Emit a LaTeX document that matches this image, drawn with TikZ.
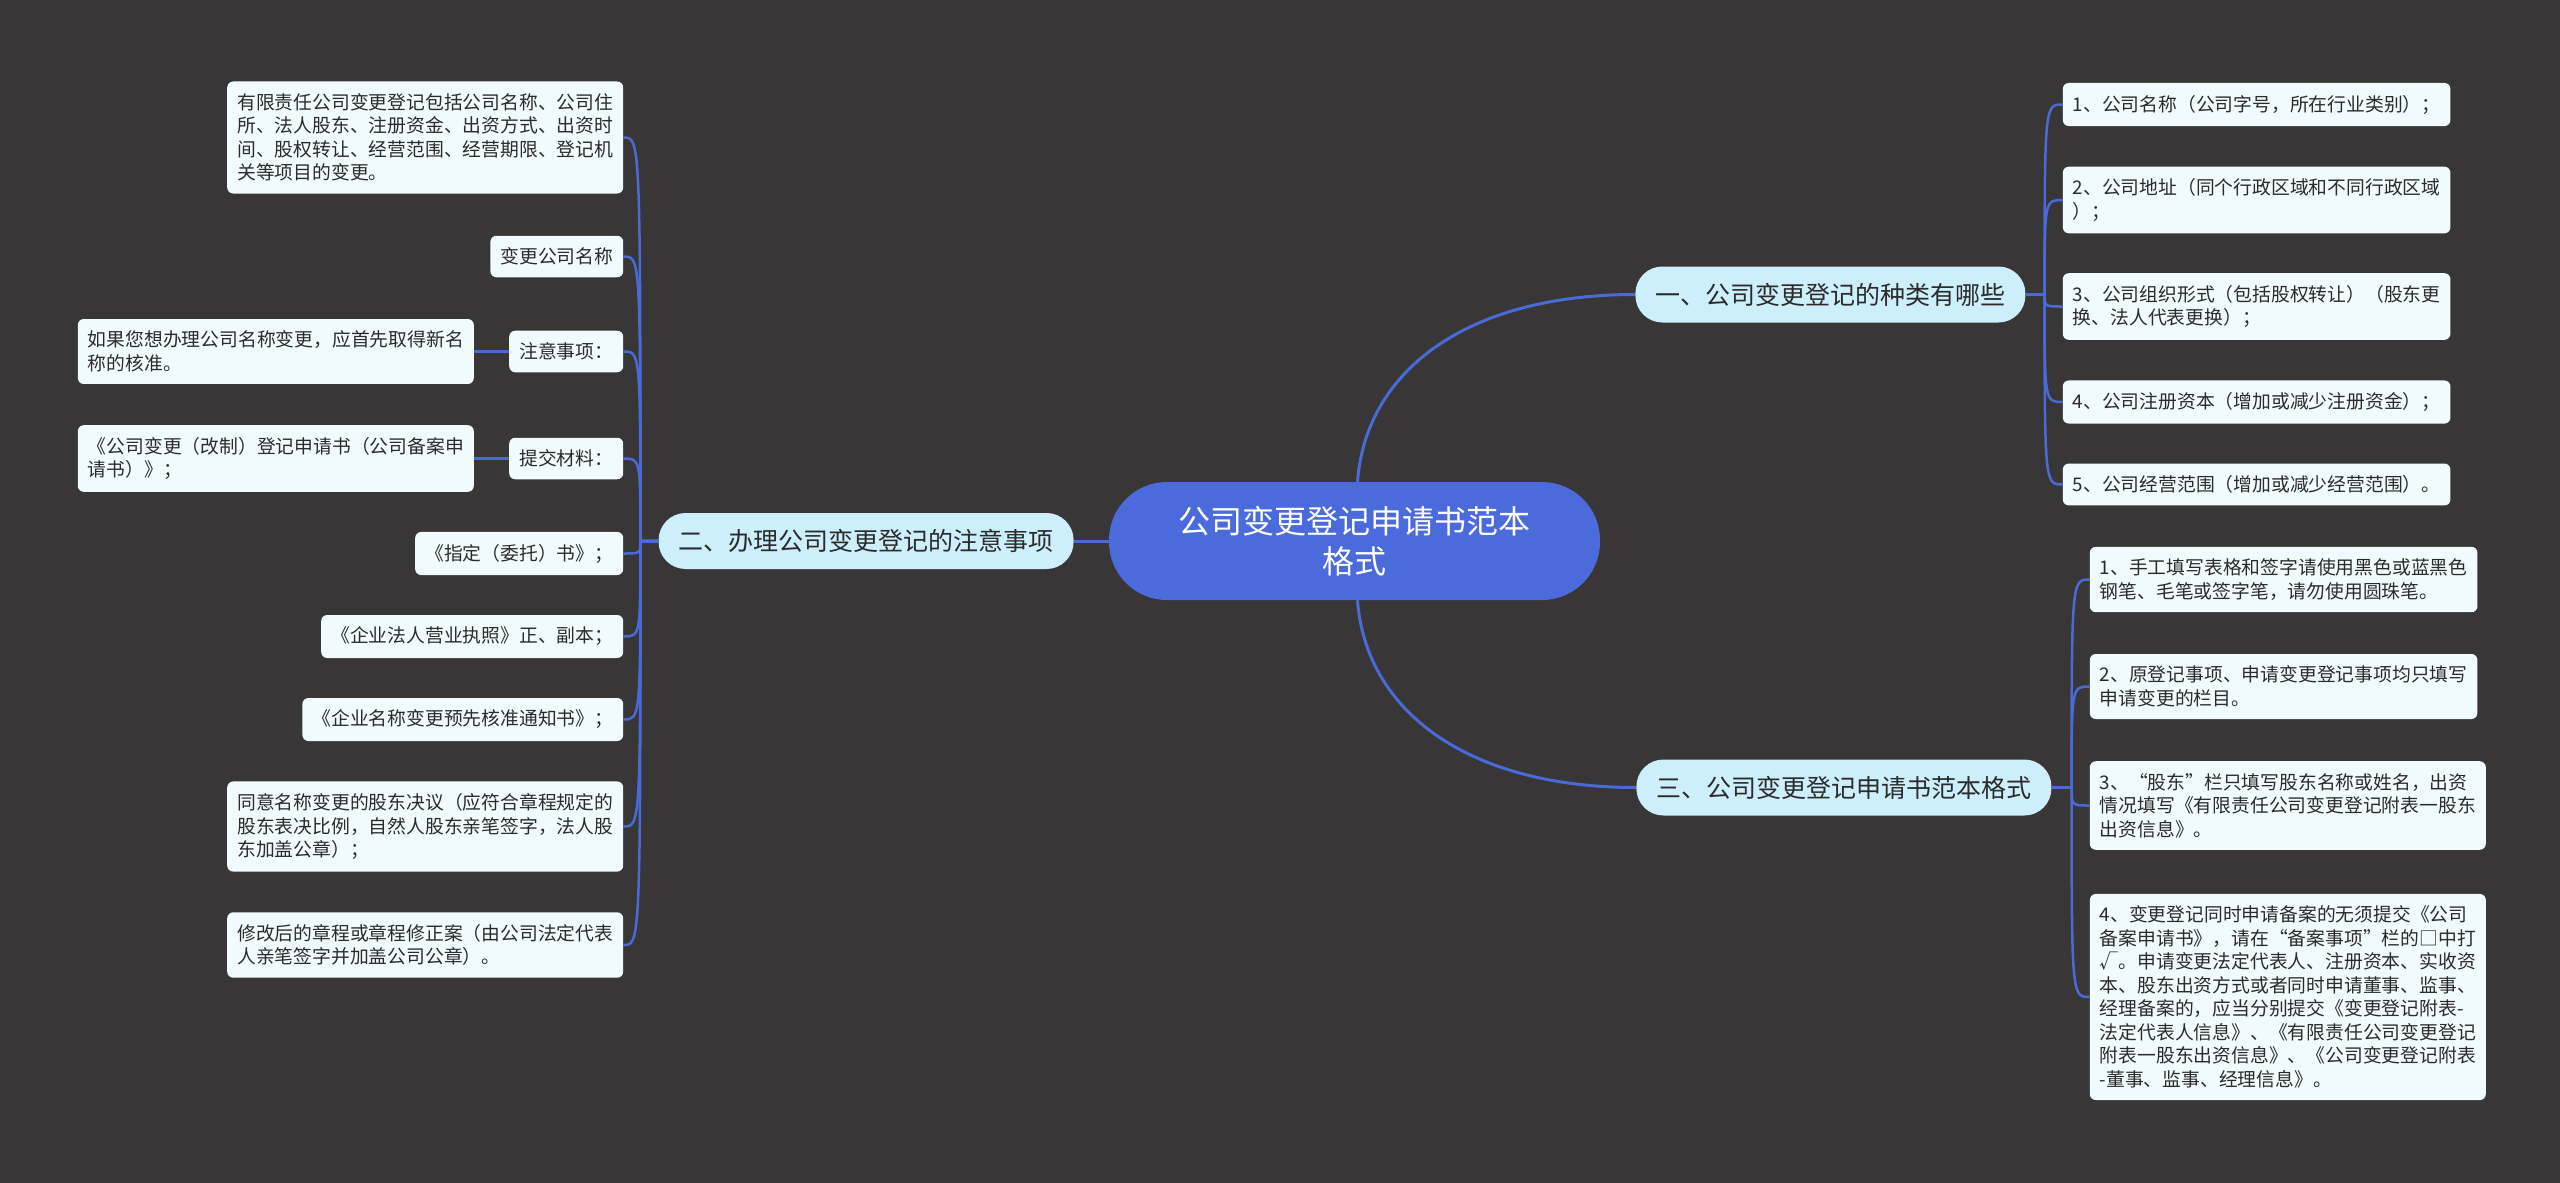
\documentclass[tikz,border=0pt]{standalone}
\usepackage{fontspec}
\setmainfont{Noto Sans CJK SC}
\usetikzlibrary{positioning}
\definecolor{bgdark}{HTML}{383637}
\definecolor{hubblue}{HTML}{4B6BDC}
\definecolor{topicfill}{HTML}{CDEEFB}
\definecolor{leaffill}{HTML}{F1FBFE}
\definecolor{linkblue}{HTML}{4A6AD8}
\definecolor{inkdark}{HTML}{2B2B2B}
\tikzstyle{central} = [rectangle, rounded corners=58pt, fill=hubblue, text=white, minimum width=491pt, minimum height=118pt, align=center, font=\fontsize{32pt}{40pt}\selectfont]
\tikzstyle{topic} = [rectangle, rounded corners=27pt, fill=topicfill, text=inkdark, minimum height=56pt, inner xsep=20pt, font=\fontsize{25pt}{30pt}\selectfont]
\tikzstyle{leaf} = [rectangle, rounded corners=6pt, fill=leaffill, text=inkdark, inner xsep=10pt, inner ysep=12pt, align=left, font=\fontsize{18.8pt}{23.5pt}\selectfont]
\tikzstyle{mainlink} = [draw=linkblue, line width=3pt]
\tikzstyle{sublink} = [draw=linkblue, line width=2.5pt]

\begin{document}
\begin{tikzpicture}[x=1pt, y=1pt]
    \fill [bgdark] (0,0) rectangle (2560,-1183);
    \useasboundingbox (0,0) rectangle (2560,-1183);

    \node (hub) [central] at (1354.5,-541) {公司变更登记申请书范本\\格式};
    \node (notes) [topic, left=35pt of hub] {二、办理公司变更登记的注意事项};
    \node (kinds) [topic, right=35pt of hub, yshift=246.5pt] {一、公司变更登记的种类有哪些};
    \node (format) [topic, right=36pt of hub, yshift=-246.5pt] {三、公司变更登记申请书范本格式};

    % spines
    \coordinate [left=18pt of notes] (sN);
    \coordinate [right=19pt of kinds] (sK);
    \coordinate [right=20pt of format] (sF);

    % left side
    \node (items) [leaf, left=17pt of sN, yshift=403.5pt] {有限责任公司变更登记包括公司名称、公司住\\所、法人股东、注册资金、出资方式、出资时\\间、股权转让、经营范围、经营期限、登记机\\关等项目的变更。};
    \node (rename) [leaf, left=17pt of sN, yshift=284.5pt] {变更公司名称};
    \node (attn) [leaf, left=17pt of sN, yshift=189.5pt] {注意事项：};
    \node (attnnote) [leaf, left=35pt of attn] {如果您想办理公司名称变更，应首先取得新名\\称的核准。};
    \node (submit) [leaf, left=17pt of sN, yshift=82.5pt] {提交材料：};
    \node (submitdoc) [leaf, left=35pt of submit] {《公司变更（改制）登记申请书（公司备案申\\请书）》；};
    \node (entrust) [leaf, left=17pt of sN, yshift=-12.5pt] {《指定（委托）书》；};
    \node (license) [leaf, left=17pt of sN, yshift=-95.5pt] {《企业法人营业执照》正、副本；};
    \node (prenote) [leaf, left=17pt of sN, yshift=-178.5pt] {《企业名称变更预先核准通知书》；};
    \node (resolve) [leaf, left=17pt of sN, yshift=-285.5pt] {同意名称变更的股东决议（应符合章程规定的\\股东表决比例，自然人股东亲笔签字，法人股\\东加盖公章）；};
    \node (charter) [leaf, left=17pt of sN, yshift=-404pt] {修改后的章程或章程修正案（由公司法定代表\\人亲笔签字并加盖公司公章）。};

    % right side, kinds
    \node (k1) [leaf, right=18pt of sK, yshift=190pt] {1、公司名称（公司字号，所在行业类别）；};
    \node (k2) [leaf, right=18pt of sK, yshift=94.5pt] {2、公司地址（同个行政区域和不同行政区域\\）；};
    \node (k3) [leaf, right=18pt of sK, yshift=-12pt] {3、公司组织形式（包括股权转让）（股东更\\换、法人代表更换）；};
    \node (k4) [leaf, right=18pt of sK, yshift=-107.5pt] {4、公司注册资本（增加或减少注册资金）；};
    \node (k5) [leaf, right=18pt of sK, yshift=-190pt] {5、公司经营范围（增加或减少经营范围）。};

    % right side, format
    \node (f1) [leaf, right=18pt of sF, yshift=208pt] {1、手工填写表格和签字请使用黑色或蓝黑色\\钢笔、毛笔或签字笔，请勿使用圆珠笔。};
    \node (f2) [leaf, right=18pt of sF, yshift=101pt] {2、原登记事项、申请变更登记事项均只填写\\申请变更的栏目。};
    \node (f3) [leaf, right=18pt of sF, yshift=-18pt] {3、“股东”栏只填写股东名称或姓名，出资\\情况填写《有限责任公司变更登记附表一股东\\出资信息》。};
    \node (f4) [leaf, right=18pt of sF, yshift=-209.5pt] {4、变更登记同时申请备案的无须提交《公司\\备案申请书》，请在“备案事项”栏的□中打\\√。申请变更法定代表人、注册资本、实收资\\本、股东出资方式或者同时申请董事、监事、\\经理备案的，应当分别提交《变更登记附表-\\法定代表人信息》、《有限责任公司变更登记\\附表一股东出资信息》、《公司变更登记附表\\-董事、监事、经理信息》。};

    \draw [mainlink] (hub.west) -- (notes.east);
    \draw [mainlink] ([xshift=3pt]hub.north) .. controls +(8pt,110pt) and +(-170pt,0pt) .. (kinds.west);
    \draw [mainlink] ([xshift=3pt]hub.south) .. controls +(8pt,-110pt) and +(-170pt,0pt) .. (format.west);

    \draw [sublink] (notes.west) -- (sN) .. controls (sN |- items.east) .. (items.east);
    \draw [sublink] (notes.west) -- (sN) .. controls (sN |- rename.east) .. (rename.east);
    \draw [sublink] (notes.west) -- (sN) .. controls (sN |- attn.east) .. (attn.east);
    \draw [sublink] (notes.west) -- (sN) .. controls (sN |- submit.east) .. (submit.east);
    \draw [sublink] (notes.west) -- (sN) .. controls (sN |- entrust.east) .. (entrust.east);
    \draw [sublink] (notes.west) -- (sN) .. controls (sN |- license.east) .. (license.east);
    \draw [sublink] (notes.west) -- (sN) .. controls (sN |- prenote.east) .. (prenote.east);
    \draw [sublink] (notes.west) -- (sN) .. controls (sN |- resolve.east) .. (resolve.east);
    \draw [sublink] (notes.west) -- (sN) .. controls (sN |- charter.east) .. (charter.east);
    \draw [sublink] (attn) -- (attnnote);
    \draw [sublink] (submit) -- (submitdoc);

    \draw [sublink] (kinds.east) -- (sK) .. controls (sK |- k1.west) .. (k1.west);
    \draw [sublink] (kinds.east) -- (sK) .. controls (sK |- k2.west) .. (k2.west);
    \draw [sublink] (kinds.east) -- (sK) .. controls (sK |- k3.west) .. (k3.west);
    \draw [sublink] (kinds.east) -- (sK) .. controls (sK |- k4.west) .. (k4.west);
    \draw [sublink] (kinds.east) -- (sK) .. controls (sK |- k5.west) .. (k5.west);

    \draw [sublink] (format.east) -- (sF) .. controls (sF |- f1.west) .. (f1.west);
    \draw [sublink] (format.east) -- (sF) .. controls (sF |- f2.west) .. (f2.west);
    \draw [sublink] (format.east) -- (sF) .. controls (sF |- f3.west) .. (f3.west);
    \draw [sublink] (format.east) -- (sF) .. controls (sF |- f4.west) .. (f4.west);
\end{tikzpicture}
\end{document}
